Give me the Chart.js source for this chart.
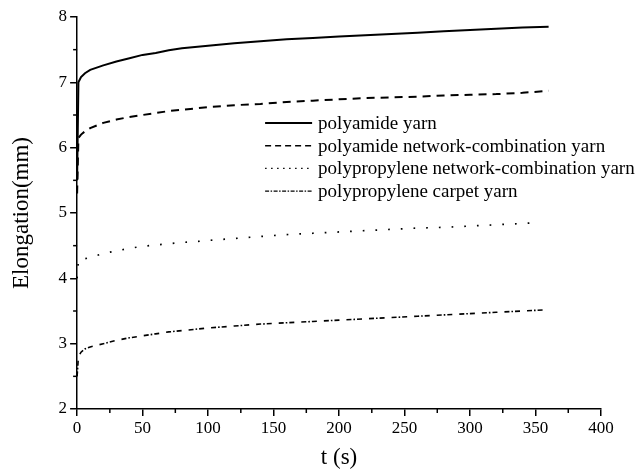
<!DOCTYPE html>
<html>
<head>
<meta charset="utf-8">
<script src="https://cdn.jsdelivr.net/npm/chart.js@4/dist/chart.umd.min.js"></script>
<style>
html,body{margin:0;padding:0;background:#fff;}
#wrap{width:644px;height:472px;position:relative;}
</style>
</head>
<body>
<div id="wrap"><canvas id="c" width="644" height="472"></canvas></div>
<script>
// ---- data ----
const timeSolid = [0, 1, 3, 6, 10, 20, 30, 40, 50, 60, 70, 80, 90, 100, 120, 140, 160, 180, 200, 220, 240, 260, 280, 300, 320, 340, 360];
const polyamideYarn = [5.5, 7.0, 7.08, 7.14, 7.19, 7.26, 7.32, 7.37, 7.42, 7.45, 7.49, 7.52, 7.54, 7.56, 7.6, 7.63, 7.66, 7.68, 7.70, 7.72, 7.74, 7.76, 7.78, 7.80, 7.82, 7.84, 7.85];
const polyamideNetwork = [5.3, 6.15, 6.2, 6.25, 6.3, 6.38, 6.43, 6.47, 6.5, 6.53, 6.56, 6.58, 6.6, 6.62, 6.65, 6.67, 6.7, 6.72, 6.74, 6.76, 6.77, 6.78, 6.8, 6.81, 6.82, 6.84, 6.87];
const timeDotted = [0, 1, 3, 6, 10, 20, 30, 40, 50, 60, 70, 80, 90, 100, 120, 140, 160, 180, 200, 220, 240, 260, 280, 300, 320, 340, 350];
const polypropyleneNetwork = [4.0, 4.28, 4.29, 4.3, 4.32, 4.38, 4.42, 4.46, 4.49, 4.51, 4.53, 4.55, 4.56, 4.58, 4.61, 4.64, 4.67, 4.69, 4.71, 4.73, 4.75, 4.77, 4.78, 4.8, 4.82, 4.84, 4.85];
const polypropyleneCarpet = [2.5, 2.8, 2.87, 2.92, 2.95, 3.0, 3.05, 3.09, 3.12, 3.15, 3.18, 3.2, 3.22, 3.24, 3.27, 3.3, 3.32, 3.34, 3.36, 3.38, 3.4, 3.42, 3.44, 3.46, 3.48, 3.5, 3.52];
const seriesNames = ['polyamide yarn', 'polyamide network-combination yarn', 'polypropylene network-combination yarn', 'polypropylene carpet yarn'];
const xTicks = [0, 50, 100, 150, 200, 250, 300, 350, 400];
const yTicks = [2, 3, 4, 5, 6, 7, 8];

const FONT = "'Liberation Serif', 'Times New Roman', serif";
const pts = (xs, ys) => xs.map((x, i) => ({x: x, y: ys[i]}));

const legendDash = [[], [6, 4], [1.5, 4.5], [4, 1.5, 1.5, 1.5]];
const legendWidth = [2, 1.6, 1.4, 1.2];

const minorTicks = {
  id: 'minorTicks',
  afterDraw(chart) {
    const ctx = chart.ctx;
    const xs = chart.scales.x, ys = chart.scales.y;
    ctx.save();
    ctx.strokeStyle = '#000';
    ctx.lineWidth = 1.5;
    ctx.setLineDash([]);
    for (let v = 25; v < 400; v += 50) {
      const px = xs.getPixelForValue(v);
      ctx.beginPath(); ctx.moveTo(px, xs.top); ctx.lineTo(px, xs.top + 4); ctx.stroke();
    }
    for (let v = 2.5; v < 8; v += 1) {
      const py = ys.getPixelForValue(v);
      ctx.beginPath(); ctx.moveTo(ys.right, py); ctx.lineTo(ys.right - 4, py); ctx.stroke();
    }
    // legend
    const ca = chart.chartArea;
    const lx = ca.left + 188, ly0 = ca.top + 106, dy = 22.7;
    ctx.font = '19px ' + FONT;
    ctx.fillStyle = '#000';
    ctx.textBaseline = 'middle';
    chart.data.datasets.forEach((ds, i) => {
      const y = ly0 + i * dy;
      ctx.lineWidth = legendWidth[i];
      ctx.setLineDash(legendDash[i]);
      ctx.beginPath(); ctx.moveTo(lx, y); ctx.lineTo(lx + 47, y); ctx.stroke();
      ctx.setLineDash([]);
      ctx.fillText(ds.label, lx + 53, y + 1);
    });
    ctx.restore();
  }
};

new Chart(document.getElementById('c'), {
  type: 'line',
  data: {
    datasets: [
      {label: seriesNames[0], data: pts(timeSolid, polyamideYarn), borderColor: '#000', borderWidth: 2, pointRadius: 0, tension: 0},
      {label: seriesNames[1], data: pts(timeSolid, polyamideNetwork), borderColor: '#000', borderWidth: 2, borderDash: [8, 6], pointRadius: 0, tension: 0},
      {label: seriesNames[2], data: pts(timeDotted, polypropyleneNetwork), borderColor: '#000', borderWidth: 1.7, borderDash: [1.7, 11], pointRadius: 0, tension: 0},
      {label: seriesNames[3], data: pts(timeSolid, polypropyleneCarpet), borderColor: '#000', borderWidth: 1.6, borderDash: [5, 2, 1.6, 2, 5, 7], pointRadius: 0, tension: 0}
    ]
  },
  options: {
    responsive: false,
    animation: false,
    layout: {padding: {top: 17, right: 43, left: 8, bottom: 0}},
    plugins: {legend: {display: false}, tooltip: {enabled: false}},
    scales: {
      x: {
        type: 'linear', min: 0, max: 400,
        afterBuildTicks: s => { s.ticks = xTicks.map(v => ({value: v})); },
        border: {display: true, color: '#000', width: 1.5},
        grid: {display: true, drawOnChartArea: false, drawTicks: true, tickLength: 7, color: '#000', lineWidth: 1.5},
        ticks: {color: '#000', font: {family: FONT, size: 17}, padding: 2, maxRotation: 0},
        title: {display: true, text: 't (s)', color: '#000', font: {family: FONT, size: 23}, padding: {top: 4, bottom: 0}}
      },
      y: {
        type: 'linear', min: 2, max: 8,
        afterBuildTicks: s => { s.ticks = yTicks.map(v => ({value: v})); },
        border: {display: true, color: '#000', width: 1.5},
        grid: {display: true, drawOnChartArea: false, drawTicks: true, tickLength: 7, color: '#000', lineWidth: 1.5},
        ticks: {color: '#000', font: {family: FONT, size: 17}, padding: 3},
        title: {display: true, text: 'Elongation(mm)', color: '#000', font: {family: FONT, size: 23}, padding: {top: 0, bottom: 20}}
      }
    }
  },
  plugins: [minorTicks]
});
</script>
</body>
</html>
